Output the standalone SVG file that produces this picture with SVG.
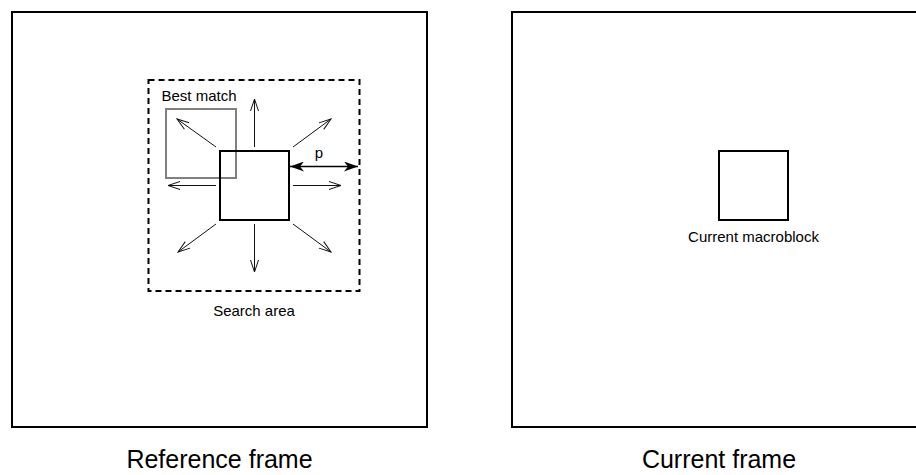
<svg xmlns="http://www.w3.org/2000/svg" width="916" height="475" viewBox="0 0 916 475">
  <style>
    .frame { fill: none; stroke: #000; stroke-width: 2; }
    .block { fill: none; stroke: #000; stroke-width: 2; }
    .match { fill: none; stroke: #808080; stroke-width: 2; }
    .search { fill: none; stroke: #000; stroke-width: 2; stroke-dasharray: 6 4; }
    .probe { fill: none; stroke: #111; stroke-width: 1; marker-end: url(#open); }
    .range { fill: none; stroke: #000; stroke-width: 1.5; marker-start: url(#solidStart); marker-end: url(#solid); }
    text { font-family: "Liberation Sans", Arial, sans-serif; fill: #000; }
    .lbl { font-size: 15px; text-anchor: middle; }
    .title { font-size: 25px; text-anchor: middle; }
  </style>
  <defs>
    <marker id="open" viewBox="0 0 14 10" refX="13" refY="5" markerWidth="14" markerHeight="10" markerUnits="userSpaceOnUse" orient="auto">
      <path d="M1,1 L13,5 L1,9" fill="none" stroke="#111" stroke-width="1"/>
    </marker>
    <marker id="solid" viewBox="0 0 14 10" refX="14" refY="5" markerWidth="14" markerHeight="10" markerUnits="userSpaceOnUse" orient="auto">
      <path d="M0,0 L14,5 L0,10 L4,5 Z" fill="#000"/>
    </marker>
    <marker id="solidStart" viewBox="0 0 14 10" refX="0" refY="5" markerWidth="14" markerHeight="10" markerUnits="userSpaceOnUse" orient="auto">
      <path d="M14,0 L0,5 L14,10 L10,5 Z" fill="#000"/>
    </marker>
  </defs>

  <rect width="916" height="475" fill="#fff"/>

  <!-- Reference frame -->
  <g id="reference-frame">
    <rect class="frame" x="12" y="12" width="415" height="415"/>
    <text class="title" x="219.5" y="468">Reference frame</text>
  </g>

  <g id="search-area">
    <rect class="search" x="148.5" y="80" width="211" height="211"/>
    <text class="lbl" x="254" y="316">Search area</text>
  </g>

  <g id="best-match">
    <rect class="match" x="166" y="109" width="70" height="69"/>
    <text class="lbl" x="199" y="101">Best match</text>
  </g>

  <g id="candidate-block">
    <rect class="block" x="220" y="151" width="69" height="69"/>
  </g>

  <!-- Current frame -->
  <g id="current-frame">
    <rect class="frame" x="512" y="12" width="415" height="415"/>
    <text class="title" x="719" y="468">Current frame</text>
  </g>

  <g id="current-macroblock">
    <rect class="block" x="719" y="151" width="69" height="69"/>
    <text class="lbl" x="753.5" y="242">Current macroblock</text>
  </g>

  <!-- Search directions and range -->
  <g id="connectors">
    <line class="probe" x1="254.5" y1="147" x2="254.5" y2="99"/>
    <line class="probe" x1="254.5" y1="224" x2="254.5" y2="272"/>
    <line class="probe" x1="216" y1="185.5" x2="168" y2="185.5"/>
    <line class="probe" x1="293" y1="185.5" x2="341" y2="185.5"/>
    <line class="probe" x1="216" y1="147" x2="177" y2="119"/>
    <line class="probe" x1="293" y1="147" x2="331" y2="119"/>
    <line class="probe" x1="216" y1="224" x2="178" y2="252"/>
    <line class="probe" x1="293" y1="224" x2="331" y2="252"/>
    <line class="range" x1="290" y1="166.5" x2="358" y2="166.5"/>
    <text class="lbl" x="319" y="158">p</text>
  </g>
</svg>
